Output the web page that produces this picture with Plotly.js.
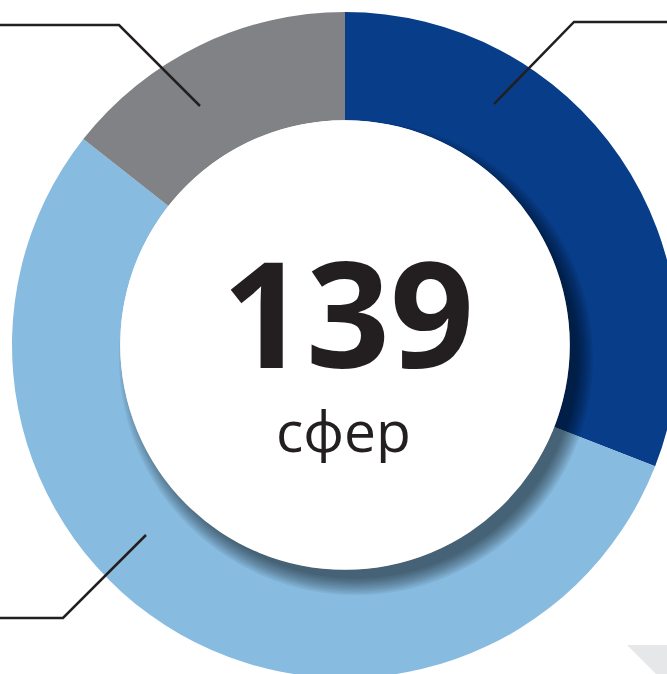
<!DOCTYPE html>
<html>
<head>
<meta charset="utf-8">
<script src="https://cdn.plot.ly/plotly-3.0.1.min.js"></script>
<style>
html,body{margin:0;padding:0;background:#fff;overflow:hidden;width:667px;height:674px;}
#chart{width:690px;height:690px;}
</style>
</head>
<body>
<div id="chart"></div>
<script>
// Data
var categories = ["Сегмент 1", "Сегмент 2", "Сегмент 3"];
var values = [43, 76, 20];
var colors = ["#083d89", "#87bbe0", "#808285"];
var centerNumber = "139";
var centerLabel = "сфер";

var W = 690, H = 690;
var cx = 345, cy = 345, R = 333, holeFrac = 0.675;
var rIn = R * holeFrac;

var shapes = [];
// soft drop shadow of the inner white disc
var steps = 10;
for (var i = 0; i < steps; i++) {
  var r = rIn - 4 + i * 1.8;
  shapes.push({type: "circle", xref: "x", yref: "y", layer: "above",
    x0: cx + 11 - r, x1: cx + 11 + r, y0: cy + 13 - r, y1: cy + 13 + r,
    fillcolor: "rgba(0,0,0,0.06)", line: {width: 0}});
}
shapes.push({type: "circle", xref: "x", yref: "y", layer: "above",
  x0: cx - rIn, x1: cx + rIn, y0: cy - rIn, y1: cy + rIn,
  fillcolor: "#ffffff", line: {width: 0}});

// leader lines
var lineStyle = {color: "#231f20", width: 2.5};
function poly(pts) {
  var p = "M" + pts.map(function (q) { return q[0] + "," + q[1]; }).join(" L");
  shapes.push({type: "path", xref: "x", yref: "y", layer: "above", path: p, line: lineStyle});
}
poly([[-5, 25], [119, 25], [200, 106]]);
poly([[494, 104], [574, 22], [700, 22]]);
poly([[-5, 618], [63, 618], [146, 535]]);
// light decoration at bottom right
shapes.push({type: "path", xref: "x", yref: "y", layer: "above",
  path: "M627,645 L700,645 L700,700 L682,700 Z", fillcolor: "#e6e7e9", line: {width: 0}});

var trace = {
  type: "pie",
  labels: categories,
  values: values,
  marker: {colors: colors, line: {width: 0}},
  sort: false,
  direction: "clockwise",
  rotation: 0,
  hole: holeFrac,
  textinfo: "none",
  hoverinfo: "none",
  showlegend: false,
  domain: {x: [(cx - R) / W, (cx + R) / W], y: [1 - (cy + R) / H, 1 - (cy - R) / H]}
};

var layout = {
  width: W, height: H,
  margin: {l: 0, r: 0, t: 0, b: 0},
  paper_bgcolor: "#ffffff",
  plot_bgcolor: "rgba(0,0,0,0)",
  showlegend: false,
  xaxis: {range: [0, W], visible: false, fixedrange: true},
  yaxis: {range: [H, 0], visible: false, fixedrange: true},
  shapes: shapes,
  annotations: [
    {x: 348, y: 311, xref: "x", yref: "y", text: "<b>" + centerNumber + "</b>", showarrow: false,
     xanchor: "center", yanchor: "middle", height: 150,
     font: {family: "Open Sans, sans-serif", size: 147, color: "#231f20"}},
    {x: 343, y: 430, xref: "x", yref: "y", text: centerLabel, showarrow: false,
     xanchor: "center", yanchor: "middle", height: 66,
     font: {family: "Open Sans, sans-serif", size: 57, color: "#231f20"}}
  ]
};

Plotly.newPlot("chart", [trace], layout, {displayModeBar: false, staticPlot: true});
</script>
</body>
</html>
